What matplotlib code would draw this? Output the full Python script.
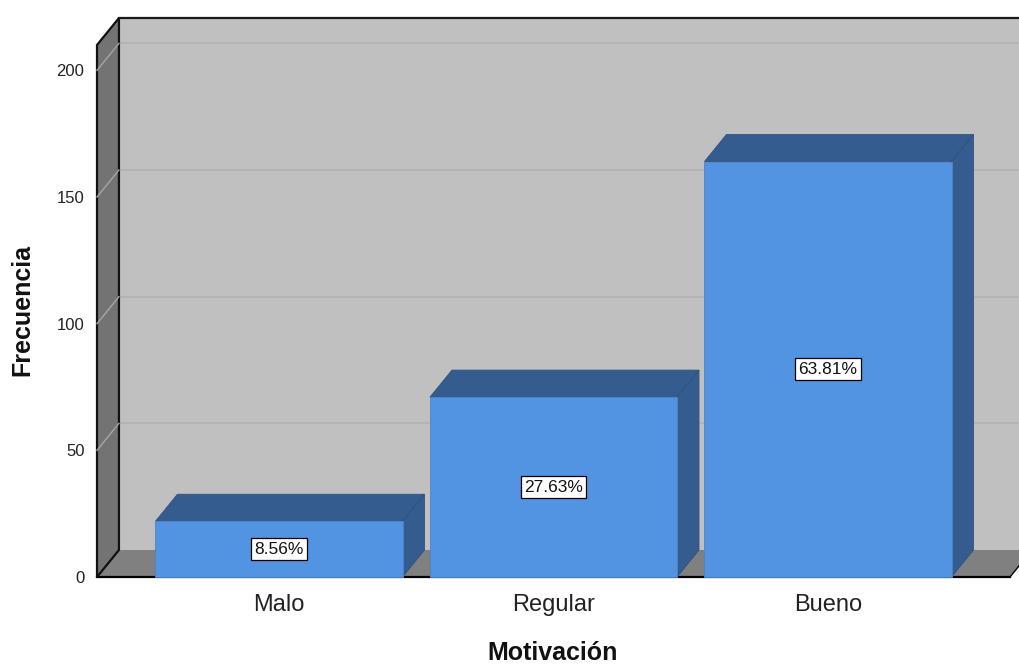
import matplotlib
matplotlib.use('Agg')
from matplotlib import pyplot as plt
from matplotlib.patches import Polygon

categories = ['Malo', 'Regular', 'Bueno']
counts = [22, 71, 164]
percents = ['8.56%', '27.63%', '63.81%']
yticks = [0, 50, 100, 150, 200]

plt.rcParams['font.family'] = ['Liberation Sans', 'DejaVu Sans']

# 3d look: depth offset in data units
dx, dy = 0.08, 10.66
xl, xr = -0.663, 2.663
ytop = 210
width = 0.9

wall_c = '#c0c0c0'
side_c = '#737373'
floor_c = '#808080'
front_c = '#5294e2'
dark_c = '#345c8f'

fig = plt.figure(figsize=(10.2, 6.64), dpi=100)
ax = fig.add_axes([97 / 1020, 87 / 664, 913 / 1020, 532 / 664])
ax.set_xlim(xl, xr)
ax.set_ylim(0, ytop)
for s in ax.spines.values():
    s.set_visible(False)


def poly(pts, fc, ec='none', lw=0, z=1):
    ax.add_patch(Polygon(pts, closed=True, facecolor=fc, edgecolor=ec,
                         linewidth=lw, zorder=z, clip_on=False))


# back wall
poly([(xl + dx, dy), (xr + dx + 0.3, dy), (xr + dx + 0.3, ytop + dy), (xl + dx, ytop + dy)], wall_c, z=0)
for t in yticks[1:]:
    ax.plot([xl + dx, xr + dx + 0.3], [t + dy, t + dy], color='#b2b2b2', lw=1.2, zorder=0.5, clip_on=False)
ax.plot([xl + dx, xr + dx + 0.3], [ytop + dy, ytop + dy], color='#1a1a1a', lw=1.6, zorder=0.6, clip_on=False)

# floor
poly([(xl, 0), (xl + dx, dy), (xr + dx, dy), (xr, 0)], floor_c, z=1)
ax.plot([xl, xr], [0, 0], color='black', lw=1.6, zorder=1.2, clip_on=False)
ax.plot([xr, xr + dx], [0, dy], color='black', lw=1.0, zorder=1.2, clip_on=False)

# left side wall
poly([(xl, 0), (xl + dx, dy), (xl + dx, ytop + dy), (xl, ytop)], side_c, ec='#111111', lw=1.6, z=2)
for t in yticks[1:]:
    ax.plot([xl, xl + dx], [t, t + dy], color='#a6a6a6', lw=1.0, zorder=2.1, clip_on=False)

# bars
for i, (c, p) in enumerate(zip(counts, percents)):
    x0, x1 = i - width / 2, i + width / 2
    poly([(x0, c), (x0 + dx, c + dy), (x1 + dx, c + dy), (x1, c)], dark_c, ec='#2e5280', lw=0.6, z=3)
    poly([(x1, 0), (x1 + dx, dy), (x1 + dx, c + dy), (x1, c)], dark_c, ec='#2e5280', lw=0.6, z=3)
    poly([(x0, 0), (x1, 0), (x1, c), (x0, c)], front_c, ec='#4a84cc', lw=0.6, z=3.5)
    ax.text(i, c / 2, p, ha='center', va='center', fontsize=12.5, color='#111111', zorder=5,
            bbox=dict(boxstyle='square,pad=0.2', facecolor='white', edgecolor='black', linewidth=0.9))

ax.set_yticks(yticks)
ax.set_yticklabels([str(t) for t in yticks], fontsize=12, color='#222222')
ax.set_xticks(range(len(categories)))
ax.set_xticklabels(categories, fontsize=17, color='#222222')
ax.tick_params(axis='both', length=0)
ax.tick_params(axis='y', pad=9)
ax.tick_params(axis='x', pad=12)

fig.text(22 / 1020, 1 - 310 / 664, 'Frecuencia', rotation=90, ha='center', va='center',
         fontsize=18, fontweight='bold', color='#111111')
fig.text(553 / 1020, 1 - 653 / 664, 'Motivación', ha='center', va='center',
         fontsize=18, fontweight='bold', color='#111111')

fig.savefig('out.png', dpi=100)
